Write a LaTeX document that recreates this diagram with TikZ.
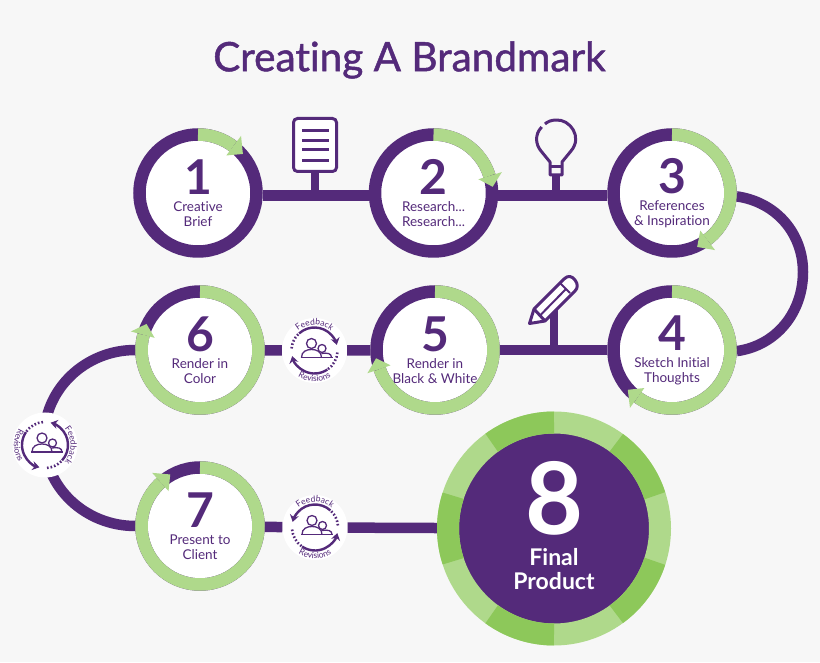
\documentclass[tikz,border=0pt]{standalone}
\usepackage{fontspec}
\setmainfont[Ligatures=NoCommon]{Lato}
\newfontfamily\titlefont[Ligatures=NoCommon, FakeBold=1.2]{Lato}
\usetikzlibrary{calc, arrows.meta, decorations.text}
\definecolor{brandpurple}{HTML}{542A7A}
\definecolor{ringlight}{HTML}{AFD98B}
\definecolor{ringdark}{HTML}{8DC85A}
\definecolor{pagegrey}{HTML}{F7F7F7}
\tikzstyle{stage} = [circle, minimum size=117pt, inner sep=0pt, align=center, text=brandpurple, draw=brandpurple, line width=12.5pt, fill=white, font=\fontsize{13.5}{14.5}\selectfont]
\tikzstyle{final} = [circle, minimum size=212pt, inner sep=0pt, draw=ringlight, line width=22pt, fill=brandpurple]
\tikzstyle{finaltext} = [align=center, text=white, font=\fontsize{23}{24.5}\selectfont\bfseries]
\tikzstyle{badge} = [circle, minimum size=65pt, inner sep=0pt, fill=white]
\tikzstyle{line} = [brandpurple, line width=10.5pt]
\tikzstyle{stem} = [brandpurple, line width=8pt]
\tikzstyle{icon} = [brandpurple, line width=3pt, line join=round]
\tikzstyle{thin} = [brandpurple, line width=1.3pt]
\tikzstyle{solid arc} = [brandpurple, line width=2.4pt, -{Stealth[length=7pt, width=9pt]}]
\tikzstyle{dotted arc} = [brandpurple, line width=2.6pt, dash pattern=on 1.6pt off 2pt]
\newcommand{\num}[1]{{\fontsize{48}{48}\selectfont\bfseries #1}\\[3pt]}
% green part of a ring: node, base angle, tip angle
\newcommand{\ringmark}[3]{
  \begin{scope}[shift={(#1)}]
    \draw [ringlight, line width=12.5pt] (90:58.5) arc (90:#2:58.5);
    \fill [ringlight] (#2:71.5) -- (#2:47) -- (#3:59.5) -- cycle;
  \end{scope}
}
% badge content: node, rotation, 1 clockwise or -1 counter clockwise
\newcommand{\cycle}[3]{
  \begin{scope}[shift={(#1)}, rotate=#2]
    \begin{scope}[xscale=#3]
      \draw [solid arc] (132:23) arc (132:14:23);
      \draw [solid arc] (-56:23) arc (-56:-166:23);
      \draw [dotted arc] (175:23) arc (175:135:23);
      \draw [dotted arc] (-5:23) arc (-5:-54:23);
    \end{scope}
    \path [postaction={decorate, decoration={text along path, text align=center, text={|\fontsize{8.5}{9}\selectfont\color{brandpurple}|Feedback}}}] (150:25.5) arc (150:30:25.5);
    \path [postaction={decorate, decoration={text along path, text align=center, text={|\fontsize{8.5}{9}\selectfont\color{brandpurple}|Revisions}}}] (-150:31) arc (-150:-30:31);
  \end{scope}
  \begin{scope}[shift={(#1)}]
    \draw [thin] (-3,7) circle (5);
    \draw [thin] (7.5,2) circle (4);
    \draw [thin] (-13,-7) .. controls (-13,-1) and (-8,1) .. (-3,1) .. controls (2,1) and (7,-1) .. (7,-7);
    \draw [thin] (7,-3) .. controls (13,-2) and (17,-3) .. (17,-7);
    \draw [thin] (-14,-7) -- (18,-7);
  \end{scope}
}

\begin{document}
\begin{tikzpicture}[x=1pt, y=1pt, node distance=235pt]
  \fill [pagegrey] (0,0) rectangle (820,662);
  \useasboundingbox (0,0) rectangle (820,662);
  \node (title) at (409.5,602) [text=brandpurple, font=\fontsize{40.5}{42}\selectfont\titlefont] {Creating A Brandmark};

  \node (s1) at (198,469) [stage] {\num{1}Creative\\Brief};
  \node (s2) [stage, right of=s1, node distance=235.5pt] {\num{2}Research...\\Research...};
  \node (s3) [stage, right of=s2, node distance=238.5pt] {\num{3}References\\\& Inspiration};
  \node (s4) [stage, below of=s3, node distance=157pt] {\num{4}Sketch Initial\\Thoughts};
  \node (s5) [stage, left of=s4, node distance=237pt] {\num{5}Render in\\Black \& White};
  \node (s6) [stage, left of=s5] {\num{6}Render in\\Color};
  \node (s7) [stage, below of=s6, node distance=176pt] {\num{7}Present to\\Client};
  \node (s8) at (554,133.5) [final] {};

  \coordinate (bendL) at (44,223.5);
  \coordinate (bendR) at (803,390);
  \draw [line] (s6) to[out=180, in=90] (bendL) to[out=-90, in=180] (s7);

  \node (fb65) at (314.5,311.5) [badge] {};
  \node (fb76) at (45,217) [badge] {};
  \node (fb78) at (315,134.5) [badge] {};

  \node (doc) at (315,517) [draw=brandpurple, line width=3pt, fill=white, rounded corners=4pt, minimum width=43pt, minimum height=53pt] {};
  \coordinate (bulb) at (556,487);
  \coordinate (pen) at (554,354);

  % connectors
  \draw [line] (s1.-2) -- (s2.182);
  \draw [line] (s2.-2) -- (s3.182);
  \draw [line] (s3.-3) to[out=-8, in=90] (bendR) to[out=-90, in=8] (s4.-1);
  \draw [line] (s4) -- (s5);
  \draw [line] (s5) -- (fb65);
  \draw [line] (fb65) -- (s6);
  \draw [line] (s7) -- (fb78);
  \draw [line] (fb78) -- (s8);

  % icons
  \draw [stem] (doc.south) -- (doc.south |- s1.-2);
  \foreach \y in {531,521,512,501}
    \draw [brandpurple, line width=3pt] (302,\y) -- (329,\y);
  \draw [stem] (bulb) -- (bulb |- s2.-2);
  \draw [icon] (541.7,535) .. controls (534,527) and (536,517) .. (541,511) -- (550,500) -- (550,487) -- (562,487) -- (562,500) -- (571,511) .. controls (583,525) and (570,543) .. (556,542) .. controls (551,542) and (547,540) .. (545,538);
  \draw [icon] (550,495) -- (562,495);
  \draw [stem] (pen) -- (pen |- s4);
  \draw [icon, fill=white] (529.5,338.5) -- (534,353) -- (564,383) .. controls (568,387) and (572,386) .. (575,382) .. controls (578,378) and (578,374) .. (575,371) -- (545,341) -- cycle;
  \draw [icon] (534,353) -- (540,346.5) -- (545,341);
  \draw [icon, line width=2pt] (540,346.5) -- (566,373);
  \draw [icon, line width=2pt] (560,379) -- (570,369);

  % rings
  \ringmark{s1}{53}{41}
  \ringmark{s2}{17}{6}
  \ringmark{s3}{-53}{-65}
  \ringmark{s4}{-126}{-138}
  \ringmark{s5}{-161}{-172}
  \ringmark{s6}{-195}{-206}
  \ringmark{s7}{-228}{-240}
  \foreach \a in {90,18,-54,-126,-198}
    \draw [ringdark, line width=22pt] ($(s8)+(\a:106)$) arc (\a:\a+36:106);
  \node (s8num) at (554,164) [finaltext, font=\fontsize{100}{100}\selectfont\bfseries] {8};
  \node (s8label) [finaltext, below of=s8num, node distance=71pt] {Final\\Product};

  \cycle{fb65}{0}{1}
  \cycle{fb76}{-90}{-1}
  \cycle{fb78}{0}{-1}
\end{tikzpicture}
\end{document}
